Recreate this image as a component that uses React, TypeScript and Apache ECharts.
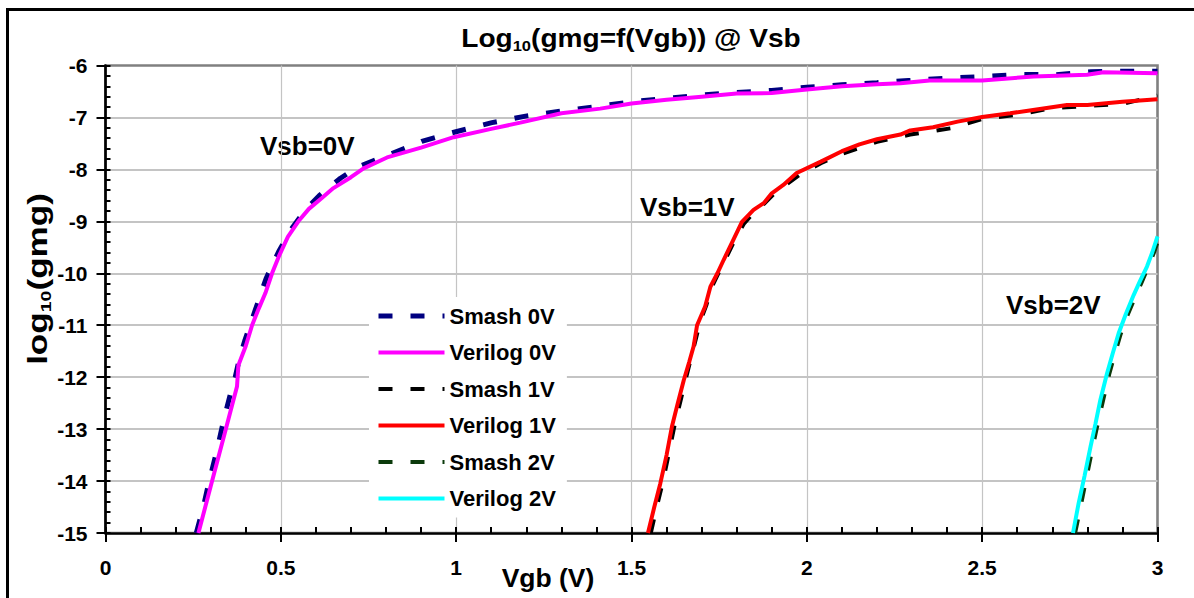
import React, { useEffect, useRef } from "react";
import * as echarts from "echarts";

const FONT = '"Liberation Sans", Arial, Helvetica, sans-serif';

const xTicks = [0, 0.5, 1, 1.5, 2, 2.5, 3];
const yTicks = [-15, -14, -13, -12, -11, -10, -9, -8, -7, -6];

const seriesNames = ["Smash 0V", "Verilog 0V", "Smash 1V", "Verilog 1V", "Smash 2V", "Verilog 2V"];

const smash0V: number[][] = [
  [0.259, -15.0], [0.279, -14.5], [0.294, -14.05], [0.318, -13.4], [0.337, -12.83], [0.359, -12.25],
  [0.37, -12.0], [0.382, -11.64], [0.398, -11.28], [0.427, -10.71], [0.458, -10.1], [0.494, -9.58],
  [0.53, -9.15], [0.57, -8.78], [0.61, -8.5], [0.67, -8.17], [0.72, -7.95], [0.808, -7.72],
  [0.902, -7.46], [1.002, -7.27], [1.102, -7.1], [1.202, -6.97], [1.306, -6.87], [1.401, -6.79],
  [1.5, -6.7], [1.6, -6.63], [1.7, -6.57], [1.8, -6.52], [1.9, -6.48], [2.0, -6.42], [2.1, -6.37],
  [2.2, -6.33], [2.29, -6.29], [2.409, -6.24], [2.51, -6.21], [2.61, -6.17], [2.71, -6.18],
  [2.81, -6.12], [2.91, -6.11], [3.0, -6.11],
];

const verilog0V: number[][] = [
  [0.265, -15.0], [0.3, -14.1], [0.34, -13.08], [0.375, -12.18], [0.379, -11.77], [0.4, -11.4],
  [0.418, -11.0], [0.437, -10.68], [0.456, -10.38], [0.475, -10.0], [0.494, -9.68], [0.52, -9.3],
  [0.55, -9.0], [0.58, -8.76], [0.617, -8.55], [0.65, -8.36], [0.7, -8.15], [0.736, -7.98],
  [0.803, -7.77], [0.9, -7.58], [0.993, -7.38], [1.1, -7.22], [1.183, -7.1], [1.3, -6.92],
  [1.411, -6.83], [1.5, -6.73], [1.6, -6.66], [1.7, -6.6], [1.8, -6.54], [1.9, -6.53], [2.0, -6.46],
  [2.1, -6.4], [2.2, -6.36], [2.267, -6.34], [2.35, -6.29], [2.5, -6.29], [2.647, -6.21],
  [2.799, -6.18], [2.846, -6.13], [3.0, -6.15],
];

const smash1V: number[][] = [
  [1.555, -15.0], [1.572, -14.5], [1.59, -14.0], [1.607, -13.45], [1.622, -12.95], [1.64, -12.45],
  [1.656, -12.0], [1.67, -11.62], [1.684, -11.25], [1.695, -10.95], [1.714, -10.6], [1.73, -10.25],
  [1.75, -9.97], [1.77, -9.7], [1.795, -9.35], [1.82, -9.05], [1.85, -8.82], [1.88, -8.65],
  [1.905, -8.48], [1.94, -8.3], [1.98, -8.1], [2.04, -7.88], [2.1, -7.7], [2.2, -7.47],
  [2.295, -7.33], [2.41, -7.21], [2.5, -7.03], [2.6, -6.95], [2.7, -6.82], [2.8, -6.78],
  [2.9, -6.74], [3.0, -6.58],
];

const verilog1V: number[][] = [
  [1.547, -15.0], [1.565, -14.5], [1.582, -14.05], [1.6, -13.5], [1.615, -12.96], [1.632, -12.5],
  [1.649, -12.06], [1.665, -11.7], [1.677, -11.41], [1.687, -11.0], [1.71, -10.64], [1.725, -10.26],
  [1.745, -10.0], [1.763, -9.74], [1.79, -9.36], [1.815, -9.01], [1.848, -8.78], [1.877, -8.65],
  [1.9, -8.46], [1.933, -8.3], [1.971, -8.07], [2.04, -7.85], [2.1, -7.65], [2.15, -7.52],
  [2.2, -7.42], [2.267, -7.33], [2.295, -7.25], [2.36, -7.19], [2.43, -7.08], [2.5, -6.99],
  [2.58, -6.92], [2.65, -6.85], [2.742, -6.76], [2.8, -6.76], [2.9, -6.7], [3.0, -6.65],
];

const smash2V: number[][] = [
  [2.765, -15.0], [2.782, -14.45], [2.8, -13.85], [2.816, -13.32], [2.83, -12.88], [2.845, -12.44],
  [2.862, -11.95], [2.878, -11.56], [2.895, -11.17], [2.915, -10.8], [2.935, -10.48], [2.955, -10.17],
  [2.975, -9.85], [2.99, -9.6], [3.0, -9.4],
];

const verilog2V: number[][] = [
  [2.759, -15.0], [2.775, -14.43], [2.792, -13.9], [2.809, -13.34], [2.823, -12.9], [2.837, -12.44],
  [2.856, -11.93], [2.872, -11.55], [2.889, -11.16], [2.91, -10.78], [2.932, -10.42], [2.95, -10.15],
  [2.97, -9.87], [2.985, -9.6], [3.0, -9.29],
];

const seriesData = [smash0V, verilog0V, smash1V, verilog1V, smash2V, verilog2V];
const seriesColors = ["#000080", "#ff00ff", "#000000", "#ff0000", "#0b3a0b", "#00ffff"];
const seriesWidths = [5, 4, 4, 4, 4, 4];
const seriesDashed = [true, false, true, false, true, false];

const annotations = [
  { text: "Vsb=0V", x: 260, y: 146 },
  { text: "Vsb=1V", x: 640, y: 207 },
  { text: "Vsb=2V", x: 1006, y: 305 },
];

export default function App() {
  const ref = useRef<HTMLDivElement>(null);
  useEffect(() => {
    if (!ref.current) return;
    const chart = echarts.init(ref.current, null, { renderer: "svg" });
    const xMin = xTicks[0];
    const xMax = xTicks[xTicks.length - 1];
    const yMin = yTicks[0];
    const yMax = yTicks[yTicks.length - 1];
    chart.setOption({
      animation: false,
      backgroundColor: "#ffffff",
      grid: {
        left: 105.5,
        top: 65.5,
        right: 1194 - 1157.5,
        bottom: 598 - 533,
        show: true,
        borderColor: "#808080",
        borderWidth: 2.6,
        backgroundColor: "transparent",
      },
      legend: {
        data: seriesNames.map((name, i) => ({
          name,
          lineStyle: { width: seriesWidths[i] },
        })),
        orient: "vertical",
        left: 369,
        top: 297,
        itemWidth: 66,
        itemHeight: 14,
        itemGap: 14.5,
        backgroundColor: "#ffffff",
        padding: [8, 11, 8, 7],
        itemStyle: { opacity: 0 },
        lineStyle: { width: 4 },
        textStyle: { fontFamily: FONT, fontSize: 22, fontWeight: "bold", color: "#000" },
      },
      xAxis: [
        {
          type: "value",
          min: xMin,
          max: xMax,
          interval: 0.5,
          position: "bottom",
          axisLine: { show: true, onZero: false, lineStyle: { color: "#000", width: 2.6 } },
          axisTick: { show: true, inside: false, length: 9, lineStyle: { color: "#000", width: 2 } },
          axisLabel: {
            margin: 24,
            fontFamily: FONT,
            fontSize: 21,
            fontWeight: "bold",
            color: "#000",
          },
          splitLine: { show: true, showMaxLine: false, lineStyle: { color: "#c4c4c4", width: 1.2 } },
        },
        {
          type: "value",
          min: xMin,
          max: xMax,
          interval: 0.1,
          position: "bottom",
          axisLine: { show: false },
          axisTick: { show: true, inside: true, length: 6, lineStyle: { color: "#000", width: 2 } },
          axisLabel: { show: false },
          splitLine: { show: false },
        },
      ],
      yAxis: [
        {
          type: "value",
          min: yMin,
          max: yMax,
          interval: 1,
          position: "left",
          axisLine: { show: true, onZero: false, lineStyle: { color: "#000", width: 2.6 } },
          axisTick: { show: true, inside: false, length: 9, lineStyle: { color: "#000", width: 2 } },
          axisLabel: {
            margin: 18,
            fontFamily: FONT,
            fontSize: 21,
            fontWeight: "bold",
            color: "#000",
          },
          splitLine: { show: true, showMaxLine: false, lineStyle: { color: "#c4c4c4", width: 2 } },
        },
        {
          type: "value",
          min: yMin,
          max: yMax,
          interval: 0.2,
          position: "left",
          axisLine: { show: false },
          axisTick: { show: true, inside: true, length: 5, lineStyle: { color: "#000", width: 2 } },
          axisLabel: { show: false },
          splitLine: { show: false },
        },
      ],
      series: seriesNames.map((name, i) => ({
        name,
        type: "line",
        xAxisIndex: 0,
        yAxisIndex: 0,
        data: seriesData[i],
        symbol: "none",
        showSymbol: false,
        smooth: false,
        color: seriesColors[i],
        lineStyle: {
          color: seriesColors[i],
          width: seriesWidths[i],
          type: seriesDashed[i] ? [14, 18] : "solid",
          cap: "butt",
        },
        z: 2 + i,
      })),
      graphic: [
        {
          type: "rect",
          shape: { x: 7.5, y: 9.5, width: 2000, height: 2000 },
          style: { fill: "none", stroke: "#000", lineWidth: 3 },
          silent: true,
        },
        {
          type: "text",
          x: 631,
          y: 38,
          scaleX: 1.1,
          style: {
            text: "{a|Log}{s|10}{a|(gmg=f(Vgb)) @ Vsb}",
            align: "center",
            verticalAlign: "middle",
            rich: {
              a: { fontFamily: FONT, fontSize: 25.5, fontWeight: "bold", fill: "#000", lineHeight: 30 },
              s: { fontFamily: FONT, fontSize: 15, fontWeight: "bold", fill: "#000", lineHeight: 17, verticalAlign: "bottom" },
            },
          },
        },
        {
          type: "text",
          x: 38,
          y: 279,
          rotation: Math.PI / 2,
          scaleX: 1.3,
          style: {
            text: "{a|log}{s|10}{a|(gmg)}",
            align: "center",
            verticalAlign: "middle",
            rich: {
              a: { fontFamily: FONT, fontSize: 27, fontWeight: "bold", fill: "#000", lineHeight: 31 },
              s: { fontFamily: FONT, fontSize: 15, fontWeight: "bold", fill: "#000", lineHeight: 17, verticalAlign: "bottom" },
            },
          },
        },
        {
          type: "text",
          x: 548,
          y: 578,
          scaleX: 1.06,
          style: {
            text: "Vgb (V)",
            align: "center",
            verticalAlign: "middle",
            fontFamily: FONT,
            fontSize: 25,
            fontWeight: "bold",
            fill: "#000",
          },
        },
        ...annotations.map((a) => ({
          type: "text",
          x: a.x,
          y: a.y,
          style: {
            text: a.text,
            align: "left",
            verticalAlign: "middle",
            fontFamily: FONT,
            fontSize: 26,
            fontWeight: "bold",
            fill: "#000",
          },
        })),
      ],
    });
    return () => chart.dispose();
  }, []);
  return <div ref={ref} style={{ position: "absolute", left: 0, top: 0, width: 1194, height: 598 }} />;
}
